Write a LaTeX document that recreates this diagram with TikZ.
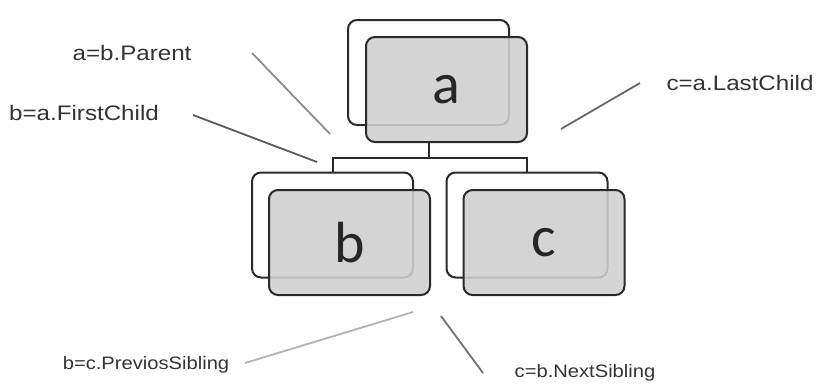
\documentclass[tikz,border=0pt]{standalone}
\usepackage{fontspec}
\setmainfont{Liberation Sans}
\newfontfamily\boxfont{Carlito}
\definecolor{edge}{HTML}{2A2A2A}
\definecolor{boxfill}{HTML}{CFCFCF}
\begin{document}
\begin{tikzpicture}[x=1pt,y=-1pt,
  backbox/.style={draw=edge, line width=2pt, rounded corners=9pt, fill=white,
    minimum width=161pt, minimum height=105pt, inner sep=0pt},
  frontbox/.style={draw=edge, line width=2pt, rounded corners=9pt, fill=boxfill, fill opacity=0.88,
    text opacity=1, minimum width=161pt, minimum height=105pt, inner sep=0pt,
    font=\boxfont\fontsize{58}{58}\selectfont, text=black!85},
  conn/.style={draw=edge, line width=2pt},
  toplabel/.style={font=\fontsize{21}{21}\selectfont, text=black!80, inner sep=0pt},
  botlabel/.style={font=\fontsize{18}{18}\selectfont, text=black!80, inner sep=0pt},
  pointer/.style={line width=1.8pt}]
\useasboundingbox (0,0) rectangle (819,383);
% boxes
\node[backbox] (backa) at (428.5,72.5) {};
\node[frontbox] (fronta) at (446.5,89.5) {a};
\node[backbox] (backb) at (332.5,225) {};
\node[frontbox] (frontb) at (349.5,242.5) {b};
\node[backbox] (backc) at (527,225) {};
\node[frontbox] (frontc) at (544,242.5) {c};
% tree connectors
\coordinate (j) at (428.5,158);
\draw[conn] (backa.center |- fronta.south) -- (j);
\draw[conn] (backb.north) |- (j) -| (backc.north);
% labels
\node[toplabel] (lparent) at (132,53) {\scalebox{1.15}[1]{a=b.Parent}};
\node[toplabel] (lfirst) at (84,113) {\scalebox{1.15}[1]{b=a.FirstChild}};
\node[toplabel] (llast) at (740,83) {\scalebox{1.15}[1]{c=a.LastChild}};
\node[botlabel] (lprev) at (146,365) {\scalebox{1.12}[1]{b=c.PreviosSibling}};
\node[botlabel] (lnext) at (585,373) {\scalebox{1.12}[1]{c=b.NextSibling}};
% pointer lines
\coordinate (p1) at (252,53);   \coordinate (p2) at (330,134);
\coordinate (f1) at (193,115);  \coordinate (f2) at (317,162);
\coordinate (l1) at (640,83);   \coordinate (l2) at (561,129);
\coordinate (s1) at (245,363);  \coordinate (s2) at (413,312);
\coordinate (n1) at (441,316);  \coordinate (n2) at (483,373);
\draw[pointer, draw=black!45] (p1) -- (p2);
\draw[pointer, draw=black!65] (f1) -- (f2);
\draw[pointer, draw=black!60] (l1) -- (l2);
\draw[pointer, draw=black!30] (s1) -- (s2);
\draw[pointer, draw=black!55] (n1) -- (n2);
\end{tikzpicture}
\end{document}
